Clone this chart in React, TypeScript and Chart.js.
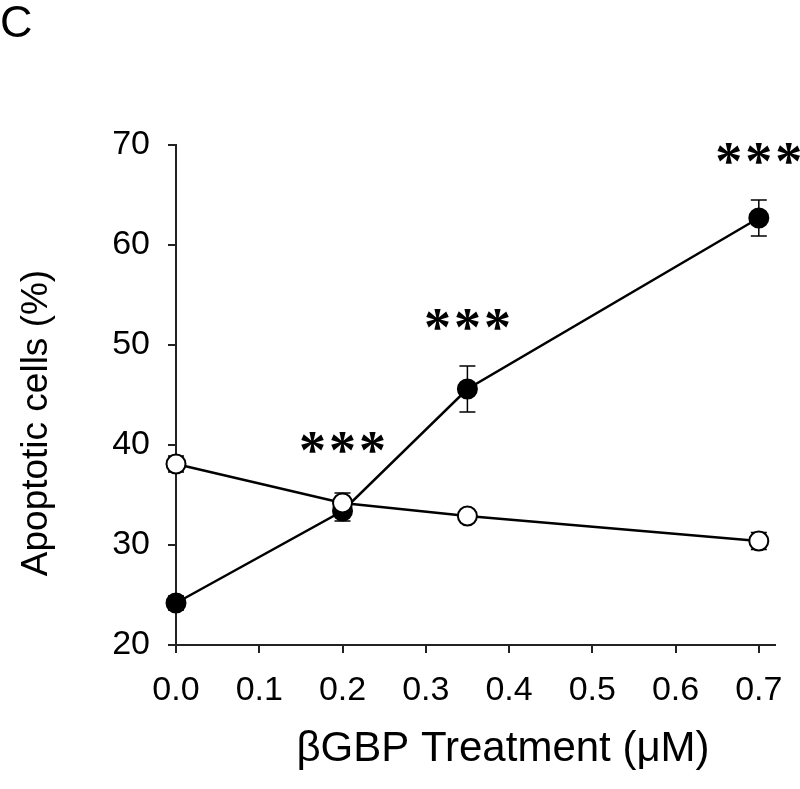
import React, { useEffect, useRef } from "react";
import { Chart, registerables } from "chart.js";

Chart.register(...registerables);

// ---- data ----
const xValues = [0, 0.2, 0.35, 0.7];
const treatedMeans = [24.2, 33.4, 45.6, 62.7];
const treatedErrors = [0.7, 1.0, 2.3, 1.8];
const controlMeans = [38.1, 34.2, 32.9, 30.4];
const controlErrors = [0.8, 1.0, 0.5, 0.85];
const xTicks = [0, 0.1, 0.2, 0.3, 0.4, 0.5, 0.6, 0.7];
const yTicks = [20, 30, 40, 50, 60, 70];
const sigX = [0.2, 0.35, 0.7];
const sigY = [40.3, 52.6, 69.2];
const sigLabels = ["***", "***", "***"];
const panelLabel = "C";
const xTitle = "\u03B2GBP Treatment (\u03BCM)";
const yTitle = "Apoptotic cells (%)";

const FONT = "'Liberation Sans', Arial, sans-serif";
const errorSets = [controlErrors, treatedErrors];

const errorBarPlugin = {
  id: "errorBars",
  beforeDatasetsDraw(chart: any) {
    const ctx = chart.ctx;
    const xs = chart.scales.x;
    const ys = chart.scales.y;
    ctx.save();
    ctx.strokeStyle = "#000";
    ctx.lineWidth = 1.5;
    chart.data.datasets.forEach((ds: any, di: number) => {
      const errs = errorSets[di];
      ds.data.forEach((p: any, i: number) => {
        const px = xs.getPixelForValue(p.x);
        const top = ys.getPixelForValue(p.y + errs[i]);
        const bot = ys.getPixelForValue(p.y - errs[i]);
        ctx.beginPath();
        ctx.moveTo(px, top);
        ctx.lineTo(px, bot);
        ctx.moveTo(px - 8, top);
        ctx.lineTo(px + 8, top);
        ctx.moveTo(px - 8, bot);
        ctx.lineTo(px + 8, bot);
        ctx.stroke();
      });
    });
    ctx.restore();
  },
};

const annotationPlugin = {
  id: "annotations",
  afterDraw(chart: any) {
    const ctx = chart.ctx;
    const xs = chart.scales.x;
    const ys = chart.scales.y;
    ctx.save();
    ctx.fillStyle = "#000";
    // significance stars
    ctx.font = `bold 54px 'Liberation Serif', 'Times New Roman', serif`;
    ctx.textAlign = "center";
    ctx.textBaseline = "alphabetic";
    sigLabels.forEach((lab, k) => {
      const cx = xs.getPixelForValue(sigX[k]);
      const cy = ys.getPixelForValue(sigY[k]);
      const chars = lab.split("");
      chars.forEach((ch, j) => {
        const m = ctx.measureText(ch);
        const inkMid = (m.actualBoundingBoxAscent - m.actualBoundingBoxDescent) / 2;
        const ox = (j - (chars.length - 1) / 2) * 30;
        ctx.fillText(ch, cx + ox, cy + inkMid);
      });
    });
    // panel label
    ctx.font = `45px ${FONT}`;
    ctx.textAlign = "left";
    ctx.fillText(panelLabel, 0, 37);
    // x title
    ctx.font = `42px ${FONT}`;
    ctx.textAlign = "center";
    ctx.fillText(xTitle, 503, 761);
    // y title
    ctx.save();
    ctx.translate(47, 423);
    ctx.rotate(-Math.PI / 2);
    ctx.font = `37px ${FONT}`;
    ctx.textAlign = "center";
    ctx.fillText(yTitle, 0, 0);
    ctx.restore();
    ctx.restore();
  },
};

export default function App() {
  const ref = useRef<HTMLCanvasElement>(null);
  useEffect(() => {
    if (!ref.current) return;
    const chart = new Chart(ref.current, {
      type: "line",
      data: {
        datasets: [
          {
            label: "control",
            data: xValues.map((x, i) => ({ x, y: controlMeans[i] })),
            borderColor: "#000",
            borderWidth: 2.5,
            pointRadius: 9.5,
            pointBorderWidth: 2,
            pointBackgroundColor: "#fff",
            pointBorderColor: "#000",
            clip: false as any,
          },
          {
            label: "treated",
            data: xValues.map((x, i) => ({ x, y: treatedMeans[i] })),
            borderColor: "#000",
            borderWidth: 2.5,
            pointRadius: 9.5,
            pointBorderWidth: 2,
            pointBackgroundColor: "#000",
            pointBorderColor: "#000",
            clip: false as any,
          },
        ],
      },
      options: {
        responsive: false,
        animation: false,
        layout: { padding: { top: 145, right: 20, left: 0, bottom: 0 } },
        plugins: { legend: { display: false }, tooltip: { enabled: false } },
        scales: {
          x: {
            type: "linear",
            min: 0,
            max: 0.72,
            afterBuildTicks: (s: any) => {
              s.ticks = xTicks.map((v) => ({ value: v }));
            },
            afterFit: (s: any) => {
              s.height = 144;
            },
            ticks: {
              padding: 17,
              color: "#000",
              font: { family: FONT, size: 34 },
              callback: (v: any) => Number(v).toFixed(1),
              maxRotation: 0,
              autoSkip: false,
            },
            grid: {
              drawOnChartArea: false,
              drawTicks: true,
              tickLength: 8,
              color: "#222",
              lineWidth: 2,
            },
            border: { color: "#222", width: 2 },
          },
          y: {
            type: "linear",
            min: 20,
            max: 70,
            afterBuildTicks: (s: any) => {
              s.ticks = yTicks.map((v) => ({ value: v }));
            },
            afterFit: (s: any) => {
              s.width = 176;
            },
            ticks: {
              padding: 18,
              color: "#000",
              font: { family: FONT, size: 34 },
            },
            grid: {
              drawOnChartArea: false,
              drawTicks: true,
              tickLength: 8,
              color: "#222",
              lineWidth: 2,
            },
            border: { color: "#222", width: 2 },
          },
        },
      },
      plugins: [errorBarPlugin, annotationPlugin],
    });
    return () => chart.destroy();
  }, []);
  return (
    <div style={{ position: "absolute", left: 0, top: 0, width: 800, height: 789, background: "#fff" }}>
      <canvas ref={ref} width={800} height={789} />
    </div>
  );
}
